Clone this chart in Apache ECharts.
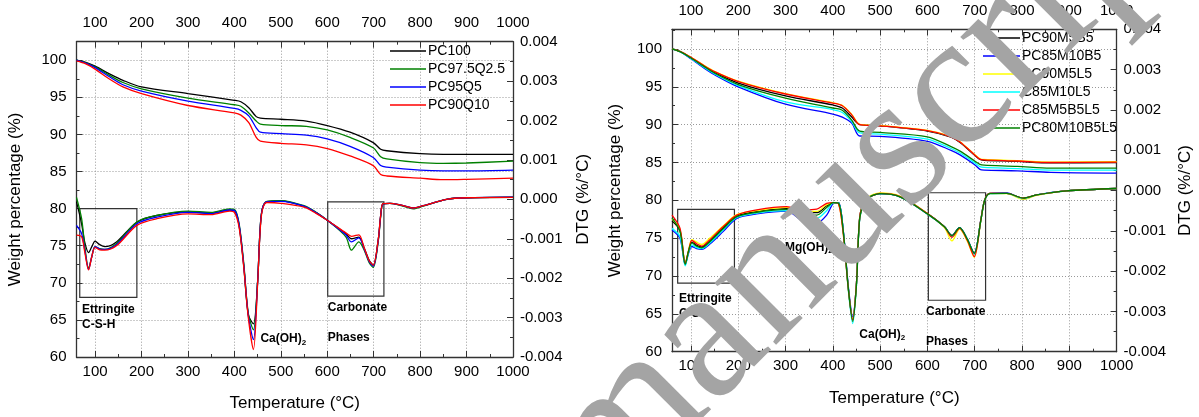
<!DOCTYPE html>
<html lang="en">
<head>
    <meta charset="UTF-8">
    <title>TGA / DTG</title>
    <script src="https://cdn.jsdelivr.net/npm/echarts@6/dist/echarts.min.js"></script>
    <style>
        *{margin:0;padding:0;}
        #main{width:1199px;height:417px;background:#fff;}
    </style>
</head>
<body>
<div id="main"></div>
<script>
// ---- left panel: weight loss (%) ----
var tWL = [60, 80, 100, 130, 160, 200, 300, 400, 414, 431, 447, 456, 501, 555, 600, 649, 699, 715, 728, 800, 850, 900, 1000];
var wPC100   = [100, 99.7, 99.2, 98.2, 97.3, 96.4, 95.5, 94.6, 94.4, 93.6, 92.4, 92.2, 92.05, 91.8, 91.2, 90.3, 88.9, 88.0, 87.8, 87.4, 87.3, 87.3, 87.3];
var wPC975   = [100, 99.65, 99.1, 98.0, 97.0, 96.15, 94.9, 94.0, 93.8, 92.9, 91.8, 91.4, 91.2, 91.1, 90.6, 89.6, 88.2, 87.0, 86.7, 86.2, 86.1, 86.15, 86.4];
var wPC95    = [100, 99.6, 99.0, 97.8, 96.7, 95.85, 94.5, 93.5, 93.25, 92.5, 90.9, 90.3, 90.1, 89.9, 89.4, 88.4, 86.9, 85.8, 85.6, 85.2, 85.1, 85.1, 85.2];
var wPC90    = [99.9, 99.5, 98.8, 97.5, 96.4, 95.5, 93.9, 92.9, 92.6, 91.6, 89.6, 89.1, 88.8, 88.6, 88.1, 87.1, 85.8, 84.6, 84.4, 84.1, 83.9, 83.95, 84.1];

// ---- left panel: DTG (x 10^-3 %/°C) ----
var tDL = [60, 71, 78, 86, 93, 100, 110, 121, 146, 190, 233, 300, 350, 390, 400, 410, 420, 430, 441, 450, 455, 460, 470, 500, 550, 575, 600, 640, 652, 668, 680, 690, 699, 710, 715, 720, 735, 757, 785, 807, 857, 900, 1000];
var dPC100 = [-0.06, -0.62, -1.1, -1.35, -1.2, -1.06, -1.15, -1.2, -1.08, -0.58, -0.41, -0.32, -0.35, -0.27, -0.28, -0.66, -1.67, -2.93, -3.16, -2.09, -0.83, -0.24, -0.06, -0.04, -0.18, -0.33, -0.53, -0.87, -1.0, -0.96, -1.25, -1.54, -1.67, -1.0, -0.41, -0.11, -0.1, -0.14, -0.22, -0.16, 0.0, 0.04, 0.055];
var dPC975 = [0.05, -0.49, -1.2, -1.75, -1.45, -1.2, -1.25, -1.27, -1.12, -0.575, -0.41, -0.3, -0.33, -0.24, -0.25, -0.6, -1.6, -2.9, -3.31, -2.1, -0.85, -0.25, -0.05, -0.03, -0.16, -0.32, -0.53, -0.95, -1.29, -1.08, -1.3, -1.6, -1.73, -1.05, -0.45, -0.12, -0.1, -0.15, -0.24, -0.17, 0.0, 0.04, 0.05];
var dPC95  = [-0.66, -0.87, -1.3, -1.78, -1.45, -1.2, -1.26, -1.27, -1.15, -0.62, -0.45, -0.33, -0.36, -0.27, -0.28, -0.63, -1.65, -2.95, -3.56, -2.1, -0.85, -0.25, -0.06, -0.05, -0.17, -0.33, -0.53, -0.9, -1.08, -0.98, -1.27, -1.57, -1.7, -1.02, -0.42, -0.12, -0.1, -0.14, -0.22, -0.16, 0.0, 0.04, 0.055];
var dPC90  = [-0.91, -0.95, -1.35, -1.79, -1.45, -1.22, -1.28, -1.29, -1.18, -0.66, -0.49, -0.37, -0.39, -0.3, -0.33, -0.7, -1.7, -3.0, -3.81, -2.15, -0.9, -0.28, -0.08, -0.1, -0.2, -0.35, -0.53, -0.85, -0.94, -0.9, -1.25, -1.55, -1.67, -1.0, -0.41, -0.11, -0.1, -0.14, -0.22, -0.16, 0.0, 0.04, 0.05];

// ---- right panel: weight loss (%) ----
var tWR = [60, 80, 100, 125, 150, 200, 300, 400, 420, 440, 457, 500, 600, 650, 669, 700, 711, 720, 790, 860, 1000];
var wM5B5    = [100, 99.6, 98.85, 97.85, 96.9, 95.5, 93.8, 92.6, 92.2, 91.0, 90.0, 89.85, 89.15, 88.35, 87.65, 85.95, 85.4, 85.3, 85.15, 84.95, 85.0];
var wM10B5   = [100, 99.55, 98.7, 97.6, 96.6, 95.0, 92.7, 91.4, 91.0, 90.2, 88.5, 88.45, 87.8, 86.6, 86.0, 84.7, 84.1, 84.0, 83.9, 83.7, 83.6];
var wM5L5    = [100, 99.6, 98.9, 97.95, 97.05, 95.75, 94.1, 92.9, 92.55, 91.35, 90.05, 89.9, 89.25, 88.45, 87.75, 86.05, 85.5, 85.4, 85.25, 85.05, 85.1];
var wM10L5   = [100, 99.55, 98.75, 97.7, 96.7, 95.15, 93.0, 92.0, 91.6, 90.4, 88.9, 88.75, 88.1, 86.85, 86.25, 84.95, 84.45, 84.35, 84.2, 84.0, 84.0];
var wM5B5L5  = [100, 99.6, 98.9, 97.9, 97.0, 95.7, 94.05, 92.85, 92.5, 91.3, 90.0, 89.85, 89.2, 88.4, 87.7, 86.0, 85.45, 85.35, 85.2, 85.0, 85.05];
var wM10B5L5 = [100, 99.55, 98.8, 97.8, 96.8, 95.3, 93.5, 92.2, 91.9, 90.6, 89.15, 88.98, 88.4, 87.1, 86.5, 85.2, 84.75, 84.65, 84.5, 84.26, 84.25];

// ---- right panel: DTG (x 10^-3 %/°C) ----
var tDR = [60, 77, 88, 95, 102, 112, 123, 140, 168, 197, 239, 302, 338, 366, 387, 401, 412, 422, 433, 442, 450, 457, 468, 479, 500, 542, 600, 636, 652, 668, 684, 699, 713, 721, 732, 768, 803, 831, 895, 1000];
var dM5B5    = [-0.75, -1.0, -1.83, -1.52, -1.28, -1.36, -1.40, -1.25, -0.93, -0.64, -0.52, -0.45, -0.54, -0.55, -0.38, -0.30, -0.30, -1.0, -2.45, -3.2, -2.3, -0.65, -0.24, -0.15, -0.08, -0.15, -0.57, -0.9, -1.12, -0.92, -1.2, -1.56, -0.73, -0.24, -0.07, -0.07, -0.19, -0.11, -0.01, 0.05];
var dM10B5   = [-0.98, -1.19, -1.84, -1.55, -1.39, -1.44, -1.46, -1.33, -1.02, -0.69, -0.58, -0.51, -0.77, -0.81, -0.61, -0.32, -0.30, -0.98, -2.4, -3.13, -2.3, -0.66, -0.24, -0.15, -0.08, -0.16, -0.58, -0.9, -1.12, -0.92, -1.2, -1.56, -0.73, -0.24, -0.07, -0.06, -0.21, -0.11, -0.01, 0.05];
var dM5L5    = [-0.7, -0.98, -1.8, -1.48, -1.22, -1.28, -1.34, -1.18, -0.88, -0.6, -0.5, -0.42, -0.52, -0.52, -0.35, -0.30, -0.33, -1.06, -2.47, -3.2, -2.3, -0.65, -0.22, -0.13, -0.06, -0.14, -0.57, -0.92, -1.25, -0.96, -1.25, -1.66, -0.75, -0.25, -0.07, -0.08, -0.22, -0.12, -0.01, 0.05];
var dM10L5   = [-0.94, -1.15, -1.87, -1.55, -1.35, -1.42, -1.44, -1.3, -0.98, -0.67, -0.56, -0.50, -0.68, -0.69, -0.5, -0.31, -0.31, -1.0, -2.5, -3.30, -2.35, -0.68, -0.24, -0.15, -0.08, -0.16, -0.58, -0.9, -1.14, -0.93, -1.2, -1.58, -0.74, -0.25, -0.08, -0.07, -0.2, -0.11, -0.01, 0.05];
var dM5B5L5  = [-0.61, -0.94, -1.81, -1.5, -1.24, -1.32, -1.38, -1.22, -0.9, -0.61, -0.48, -0.40, -0.48, -0.46, -0.32, -0.30, -0.33, -1.06, -2.47, -3.21, -2.3, -0.65, -0.24, -0.15, -0.07, -0.15, -0.57, -0.9, -1.16, -0.94, -1.23, -1.64, -0.73, -0.24, -0.07, -0.07, -0.19, -0.11, -0.01, 0.05];
var dM10B5L5 = [-0.68, -1.02, -1.83, -1.5, -1.3, -1.38, -1.42, -1.27, -0.95, -0.65, -0.54, -0.47, -0.61, -0.61, -0.42, -0.30, -0.31, -1.0, -2.45, -3.25, -2.35, -0.68, -0.24, -0.15, -0.08, -0.16, -0.58, -0.9, -1.12, -0.92, -1.2, -1.56, -0.74, -0.25, -0.08, -0.07, -0.19, -0.11, -0.01, 0.05];

var namesL = ['PC100', 'PC97.5Q2.5', 'PC95Q5', 'PC90Q10'];
var colorsL = ['#000000', '#008000', '#0000ff', '#ff0000'];
var namesR = ['PC90M5B5', 'PC85M10B5', 'PC90M5L5', 'C85M10L5', 'C85M5B5L5', 'PC80M10B5L5'];
var colorsR = ['#000000', '#0000ff', '#ffff00', '#00ffff', '#ff0000', '#008000'];

// annotation boxes [tStart, tEnd, wTop, wBottom] and labels [t, w, text]
var boxesL = [[67, 190, 80.0, 68.05], [601, 722, 80.9, 68.2]];
var boxesR = [[72, 192, 78.8, 69.05], [602, 723, 81.0, 66.8]];
var notesL = [[72, 67.4, 'Ettringite\nC-S-H'], [456, 63.5, 'Ca(OH){s|2}'], [601, 67.6, 'Carbonate\n\nPhases']];
var notesR = [[75, 68.0, 'Ettringite\nC-S-H'], [299, 74.8, 'Mg(OH){s|2}'], [456, 63.3, 'Ca(OH){s|2}'], [597, 66.3, 'Carbonate\n\nPhases']];

var FONT = 'Liberation Sans, Arial, sans-serif';

function pairs(xs, ys){
    return xs.map(function(x, i){ return [x, ys[i]]; });
}

function xAxes(grid, top){
    return {
        type: 'value', gridIndex: grid, position: top ? 'top' : 'bottom',
        min: 60, max: 1000, splitNumber: 10,
        name: top ? '' : 'Temperature (°C)', nameLocation: 'middle', nameGap: 38,
        nameTextStyle: {fontSize: 17, color: '#000', fontFamily: FONT},
        axisLine: {show: true, onZero: false, lineStyle: {color: '#333', width: 1.3}},
        axisTick: {show: true, inside: true, length: 6, lineStyle: {color: '#333'}},
        minorTick: {show: true, splitNumber: 2, length: 3, lineStyle: {color: '#333'}},
        axisLabel: {fontSize: 15, color: '#000', fontFamily: FONT, margin: top ? 11 : 7, showMinLabel: false,
            formatter: function(v){ return String(v); }},
        splitLine: {show: !top, lineStyle: {color: '#999', type: [1, 2], width: 1}}
    };
}

function yWeight(grid, max, gap){
    return {
        type: 'value', gridIndex: grid, position: 'left',
        min: 60, max: max, interval: 5,
        name: 'Weight percentage (%)', nameLocation: 'middle', nameGap: gap,
        nameTextStyle: {fontSize: 17, color: '#000', fontFamily: FONT},
        axisLine: {show: true, onZero: false, lineStyle: {color: '#333', width: 1.3}},
        axisTick: {show: true, inside: true, length: 6, lineStyle: {color: '#333'}},
        minorTick: {show: true, splitNumber: 2, length: 3, lineStyle: {color: '#333'}},
        axisLabel: {fontSize: 15, color: '#000', fontFamily: FONT, margin: 10, showMaxLabel: false},
        splitLine: {show: true, lineStyle: {color: '#999', type: [1, 2], width: 1}}
    };
}

function yDtg(grid, gap){
    return {
        type: 'value', gridIndex: grid, position: 'right',
        min: -4, max: 4, interval: 1,
        name: 'DTG (%/°C)', nameLocation: 'middle', nameGap: gap,
        nameTextStyle: {fontSize: 17, color: '#000', fontFamily: FONT},
        axisLine: {show: true, onZero: false, lineStyle: {color: '#333', width: 1.3}},
        axisTick: {show: true, inside: true, length: 6, lineStyle: {color: '#333'}},
        minorTick: {show: true, splitNumber: 2, length: 3, lineStyle: {color: '#333'}},
        axisLabel: {fontSize: 15, color: '#000', fontFamily: FONT, margin: 7,
            formatter: function(v){ return (v / 1000).toFixed(3); }},
        splitLine: {show: false}
    };
}

function line(name, color, xi, yi, data){
    return {
        type: 'line', name: name, xAxisIndex: xi, yAxisIndex: yi,
        data: data, symbol: 'none', smooth: 0.3,
        lineStyle: {color: color, width: 1.3}, itemStyle: {color: color},
        z: 3
    };
}

function boxes(list){
    return {
        silent: true,
        itemStyle: {color: 'rgba(0,0,0,0)', borderColor: '#333', borderWidth: 1.2},
        label: {show: false},
        data: list.map(function(b){ return [{coord: [b[0], b[2]]}, {coord: [b[1], b[3]]}]; })
    };
}

function notes(list){
    return {
        silent: true, symbolSize: 0,
        label: {
            show: true, position: [0, 0], align: 'left', verticalAlign: 'top',
            color: '#000', fontSize: 12, fontWeight: 'bold', fontFamily: FONT, lineHeight: 15,
            formatter: '{b}',
            rich: {s: {fontSize: 8, fontWeight: 'bold', color: '#000', fontFamily: FONT, padding: [8, 0, 0, 0]}}
        },
        data: list.map(function(n){ return {name: n[2], coord: [n[0], n[1]]}; })
    };
}

var wL = [wPC100, wPC975, wPC95, wPC90];
var dL = [dPC100, dPC975, dPC95, dPC90];
var wR = [wM5B5, wM10B5, wM5L5, wM10L5, wM5B5L5, wM10B5L5];
var dR = [dM5B5, dM10B5, dM5L5, dM10L5, dM5B5L5, dM10B5L5];

var series = [];
namesL.forEach(function(n, i){
    series.push(line(n, colorsL[i], 0, 0, pairs(tWL, wL[i])));
    series.push(line(n, colorsL[i], 0, 1, pairs(tDL, dL[i])));
});
namesR.forEach(function(n, i){
    series.push(line(n, colorsR[i], 2, 2, pairs(tWR, wR[i])));
    series.push(line(n, colorsR[i], 2, 3, pairs(tDR, dR[i])));
});
series[0].markArea = boxes(boxesL);
series[0].markPoint = notes(notesL);
series[8].markArea = boxes(boxesR);
series[8].markPoint = notes(notesR);

var legendBase = {
    orient: 'vertical', padding: 0, itemGap: 4, itemHeight: 1.5, icon: 'rect',
    textStyle: {fontSize: 14, color: '#000', fontFamily: FONT, padding: [0, 0, 0, -3]}
};

var chart = echarts.init(document.getElementById('main'), null, {renderer: 'canvas'});
chart.setOption({
    animation: false,
    backgroundColor: '#fff',
    grid: [
        {left: 76.5, right: 686, top: 41.7, bottom: 57.7},
        {left: 672, right: 82.4, top: 29.3, bottom: 65.3}
    ],
    xAxis: [xAxes(0, false), xAxes(0, true), xAxes(1, false), xAxes(1, true)],
    yAxis: [yWeight(0, 102.5, 53), yDtg(0, 62), yWeight(1, 102.6, 48), yDtg(1, 60)],
    legend: [
        Object.assign({data: namesL, left: 390, top: 44, itemWidth: 36}, legendBase),
        Object.assign({data: namesR, left: 983, top: 31, itemWidth: 37}, legendBase)
    ],
    graphic: [{
        type: 'text', x: 872, y: 178, rotation: Math.PI / 4, z: 100, silent: true,
        style: {text: 'manuscript', fontSize: 190, fontFamily: 'Liberation Serif, Times New Roman, serif',
            fill: '#a4a4a4', align: 'center', verticalAlign: 'middle'}
    }],
    series: series
});
</script>
</body>
</html>
